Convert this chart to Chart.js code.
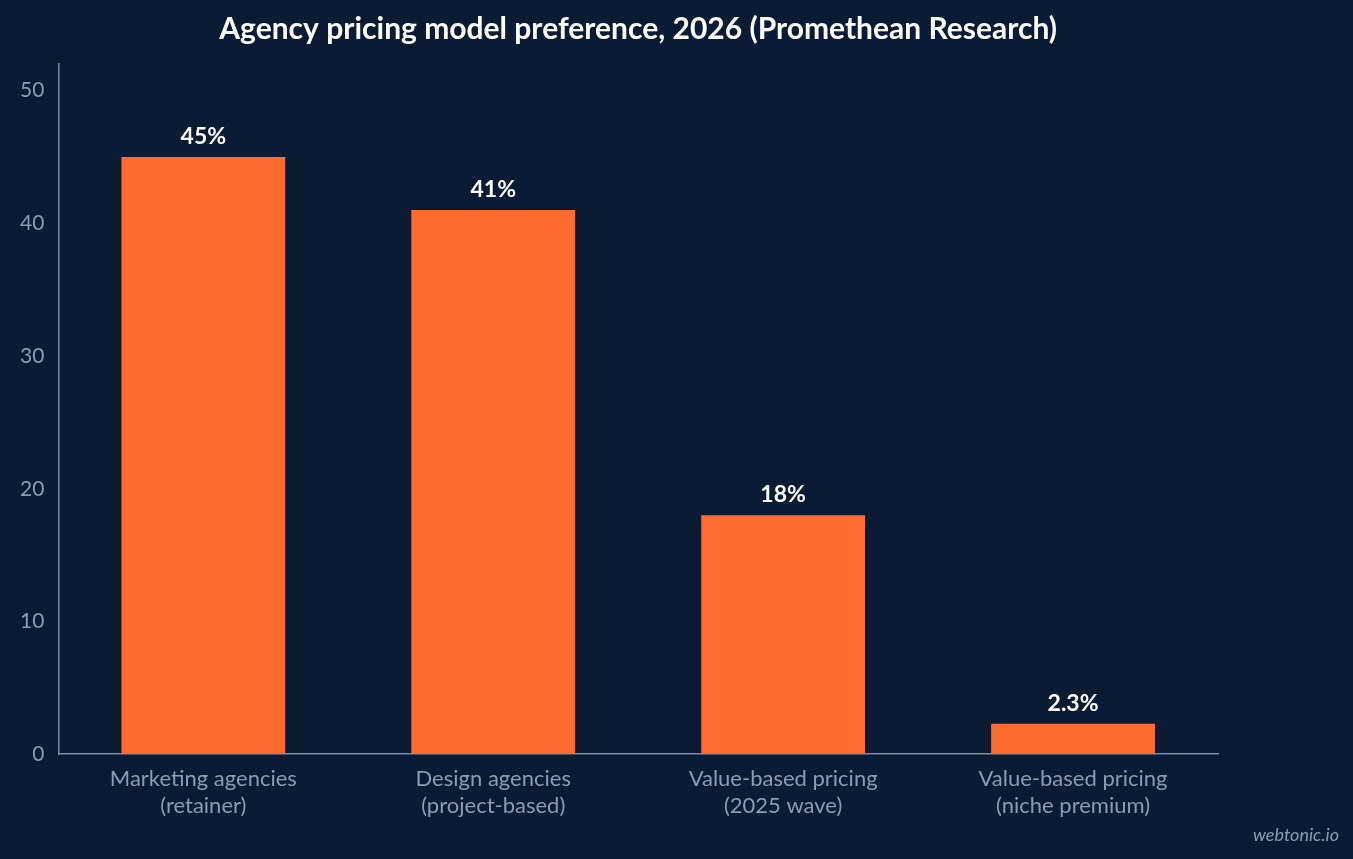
<!DOCTYPE html>
<html>
<head>
<meta charset="utf-8">
<script src="https://cdn.jsdelivr.net/npm/chart.js@4"></script>
<style>
  html, body { margin: 0; padding: 0; background: #0b1b34; }
  #wrap { position: relative; width: 1353px; height: 859px; }
  #mark { position: absolute; right: 14px; bottom: 14px; font: italic 18px Lato, sans-serif; color: #8a9bb5; }
</style>
</head>
<body>
<div id="wrap">
  <canvas id="chart" width="1353" height="859"></canvas>
  <div id="mark">webtonic.io</div>
</div>
<script>
var categories = [
  ['Marketing agencies', '(retainer)'],
  ['Design agencies', '(project-based)'],
  ['Value-based pricing', '(2025 wave)'],
  ['Value-based pricing', '(niche premium)']
];
var shares = [45, 41, 18, 2.3];
var valueLabels = ['45%', '41%', '18%', '2.3%'];
var chartTitle = 'Agency pricing model preference, 2026 (Promethean Research)';

var barLabels = {
  id: 'barLabels',
  afterDatasetsDraw: function(chart) {
    var ctx = chart.ctx;
    var meta = chart.getDatasetMeta(0);
    var area = chart.chartArea;
    ctx.save();
    ctx.fillStyle = '#ffffff';
    ctx.textAlign = 'center';
    ctx.textBaseline = 'bottom';
    ctx.font = 'bold 23px Lato, sans-serif';
    meta.data.forEach(function(bar, i) {
      ctx.fillText(valueLabels[i], bar.x, bar.y - 9);
    });
    // title centred over the plot area
    ctx.textBaseline = 'middle';
    ctx.font = 'bold 30px Lato, sans-serif';
    ctx.fillText(chartTitle, (area.left + area.right) / 2, 29);
    ctx.restore();
  }
};

new Chart(document.getElementById('chart'), {
  type: 'bar',
  data: {
    labels: categories,
    datasets: [{
      data: shares,
      backgroundColor: '#ff6b2f',
      barPercentage: 0.565,
      categoryPercentage: 1
    }]
  },
  options: {
    responsive: false,
    animation: false,
    layout: { padding: { left: 14, right: 135, top: 64, bottom: 36 } },
    plugins: {
      legend: { display: false },
      tooltip: { enabled: false },
      title: { display: false }
    },
    scales: {
      x: {
        grid: { display: false },
        border: { color: '#7a8aa3', width: 1.5 },
        ticks: { color: '#8a9bb5', font: { family: 'Lato', size: 22 }, padding: 4 }
      },
      y: {
        min: 0, max: 52,
        afterBuildTicks: function(axis) {
          axis.ticks = [0, 10, 20, 30, 40, 50].map(function(v) { return { value: v }; });
        },
        grid: { display: false },
        border: { color: '#7a8aa3', width: 1.5 },
        ticks: { color: '#8a9bb5', font: { family: 'Lato', size: 21 }, padding: 6 }
      }
    }
  },
  plugins: [barLabels]
});
</script>
</body>
</html>
